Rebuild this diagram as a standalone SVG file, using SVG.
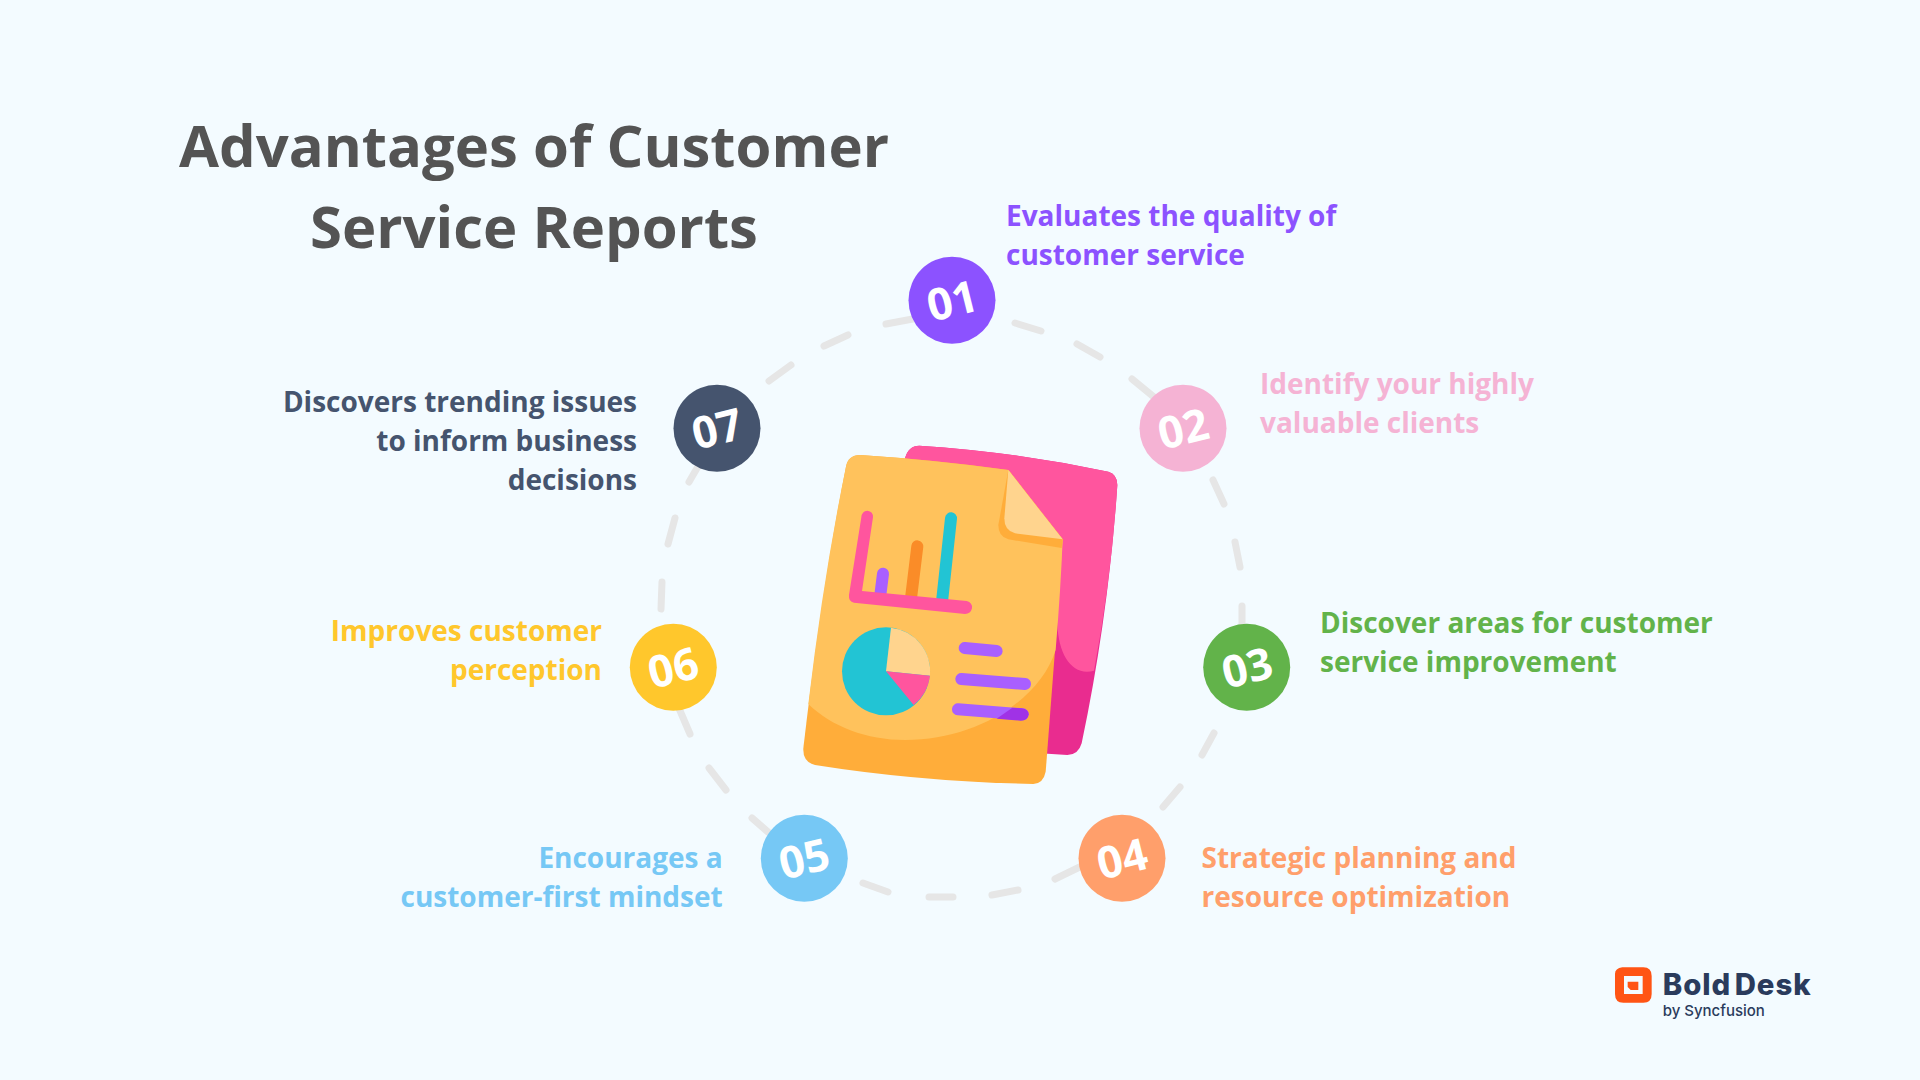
<svg xmlns="http://www.w3.org/2000/svg" width="1920" height="1080" viewBox="0 0 1920 1080">
<style>
text{font-family:"Open Sans","Noto Sans","Liberation Sans",sans-serif;font-weight:700}
.title{font-size:58px;fill:#545454;text-anchor:middle}
.lbl{font-size:28px}
.end{text-anchor:end}
.num{font-size:44px;fill:#fff;text-anchor:middle}
.dash{fill:none;stroke:#E6E6E6;stroke-width:7;stroke-linecap:round}
.bar{fill:none;stroke-linecap:round}
</style>
<rect width="1920" height="1080" fill="#F3FBFF"/>
<g id="title">
<text class="title" x="534" y="167">Advantages of Customer</text>
<text class="title" x="534" y="248">Service Reports</text>
</g>
<g id="connectors">
<path class="dash" d="M886 324L918 318M1015 323L1041 331M1077 344L1100 357M1132 379L1160 402M1213 480L1224 504M1235 542L1240 567M1242 606V635M1214 733L1202 755M1180 787L1163 807M1090 862L1055 879M1018 890L992 895M953 897H929M888 892L863 883M768 832L752 818M726 790L709 768M690 734L678 706M661 609L662 582M668 544L675 518M689 482L700 463M769 381L791 365M824 346L848 335"/>
</g>
<g id="illustration" transform="translate(780 430) scale(.33333)">
<path fill="#E92C8F" d="M375 85Q385 47 418 47Q700 65 985 125Q1012 133 1012 165Q985 560 905 940Q895 975 862 975L780 970L760 300Z"/>
<path fill="#FF559E" d="M375 85Q385 47 418 47Q700 65 985 125Q1012 133 1012 165Q995 440 942 722C880 740 835 680 832 580L760 300Z"/>
<path fill="#FFAD3A" d="M240 75Q470 90 685 120L848 328Q825 680 797 1025Q790 1060 760 1062Q420 1055 105 1005Q68 995 70 955Q125 480 198 110Q205 75 240 75Z"/>
<path fill="#FFC25C" d="M240 75Q470 90 685 120L848 328Q842 480 827 660C780 810 590 930 375 930C260 930 155 890 85 822Q130 440 198 110Q205 75 240 75Z"/>
<path fill="#FFAD3A" d="M685 120L848 328L845 354L685 328Q655 320 655 285Z"/>
<path fill="#FFD48E" d="M685 120L848 328L705 310Q673 302 673 265Z"/>
<path class="bar" stroke="#A95FFF" stroke-width="36" d="M309 431L301 495"/>
<path class="bar" stroke="#FA8C28" stroke-width="36" d="M412 349L393 505"/>
<path class="bar" stroke="#22C4D4" stroke-width="36" d="M513 265L486 515"/>
<path fill="#FF559E" d="M244 262Q246 242 262 242Q280 244 279 262L246 483L560 513Q578 518 576 535Q572 552 555 552L222 518Q205 515 207 495Z"/>
<circle cx="318" cy="724" r="132" fill="#22C4D4"/>
<path fill="#FFD48E" d="M318 724L333 593A132 132 0 0 1 450 737Z"/>
<path fill="#FF559E" d="M318 724L450 737A132 132 0 0 1 401 825Z"/>
<path class="bar" stroke="#A95FFF" stroke-width="36" d="M554 654L650 663"/>
<path class="bar" stroke="#A95FFF" stroke-width="36" d="M544 747L735 762"/>
<path class="bar" stroke="#A95FFF" stroke-width="36" d="M534 838L728 853"/>
<path fill="#A032E6" d="M650 866L697 833L725 835Q746 838 746 853Q744 872 722 872Z"/>
</g>
<g id="node-01"><circle cx="952" cy="300.3" r="43.5" fill="#8C52FF"/><text class="num" transform="translate(956 316) rotate(-14)">01</text>
<text class="lbl" fill="#8C52FF"><tspan x="1006" y="226">Evaluates the quality of</tspan><tspan x="1006" y="265">customer service</tspan></text></g>
<g id="node-02"><circle cx="1183" cy="428.3" r="43.5" fill="#F5B3D4"/><text class="num" transform="translate(1187 444) rotate(-14)">02</text>
<text class="lbl" fill="#F5B3D4"><tspan x="1260" y="394">Identify your highly</tspan><tspan x="1260" y="433">valuable clients</tspan></text></g>
<g id="node-03"><circle cx="1246.7" cy="667.3" r="43.5" fill="#62B34A"/><text class="num" transform="translate(1251 683) rotate(-14)">03</text>
<text class="lbl" fill="#62B34A"><tspan x="1320" y="633">Discover areas for customer</tspan><tspan x="1320" y="672">service improvement</tspan></text></g>
<g id="node-04"><circle cx="1122" cy="858.3" r="43.5" fill="#FF9F6B"/><text class="num" transform="translate(1126 874) rotate(-14)">04</text>
<text class="lbl" fill="#FF9F6B"><tspan x="1201.5" y="868">Strategic planning and</tspan><tspan x="1201.5" y="907">resource optimization</tspan></text></g>
<g id="node-05"><circle cx="804.3" cy="858.3" r="43.5" fill="#76C8F5"/><text class="num" transform="translate(808 874) rotate(-14)">05</text>
<text class="lbl end" fill="#76C8F5"><tspan x="722.7" y="868">Encourages a</tspan><tspan x="722.7" y="907">customer-first mindset</tspan></text></g>
<g id="node-06"><circle cx="673.3" cy="667.3" r="43.5" fill="#FFC72C"/><text class="num" transform="translate(677 683) rotate(-14)">06</text>
<text class="lbl end" fill="#FFC72C"><tspan x="602" y="641">Improves customer</tspan><tspan x="602" y="680">perception</tspan></text></g>
<g id="node-07"><circle cx="717" cy="428.3" r="43.5" fill="#45546E"/><text class="num" transform="translate(721 444) rotate(-14)">07</text>
<text class="lbl end" fill="#45546E"><tspan x="637" y="411.5">Discovers trending issues</tspan><tspan x="637" y="450.5">to inform business</tspan><tspan x="637" y="489.5">decisions</tspan></text></g>
<g id="logo" transform="translate(1590 950) scale(.33333)">
<path fill="#FF5414" fill-rule="evenodd" d="M97 52H160Q185 52 185 78V132Q185 158 160 158H100Q75 158 75 132V72Q75 55 97 52ZM97 54L108 78H102V132H158V78H108Z"/>
<path fill="#FF5414" d="M113 95H145V120H122L113 111Z"/>
<text x="218" y="135" font-size="88" letter-spacing="3" fill="#2A3B5C" style="font-family:Inter,'Liberation Sans',sans-serif;font-weight:800">Bold<tspan dx="10">Desk</tspan></text>
<text x="218" y="198" font-size="45" fill="#2A3B5C" style="font-family:Inter,'Liberation Sans',sans-serif;font-weight:500">by Syncfusion</text>
</g>
</svg>
